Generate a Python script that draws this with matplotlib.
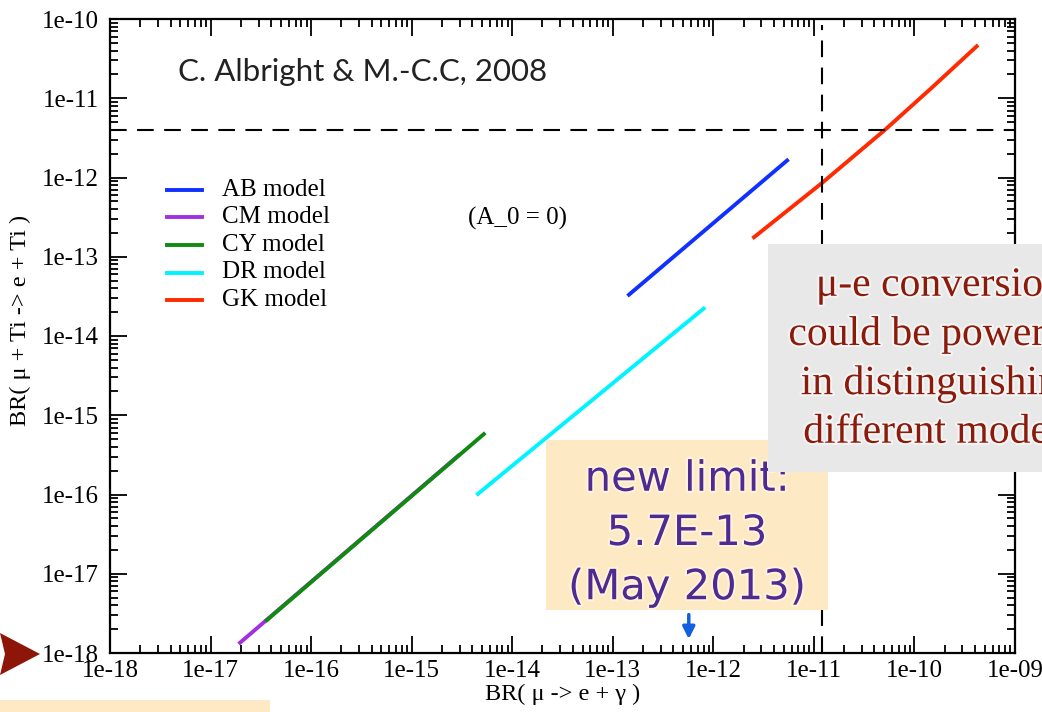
import matplotlib
matplotlib.use("Agg")
import matplotlib.pyplot as plt
import matplotlib.ticker as ticker
import matplotlib.patheffects as pe
from matplotlib.patches import Rectangle, Polygon
import numpy as np

W, H = 1042, 712

# model curves, BR(mu -> e gamma) vs BR(mu Ti -> e Ti)
models = ["AB model", "CM model", "CY model", "DR model", "GK model"]
colors = ["#1030ff", "#a030e0", "#108a10", "#00f4ff", "#ff2a00"]
ab_x = [1.4e-13, 5.6e-12]
ab_y = [3.2e-14, 1.7e-12]
cm_x = [1.9e-17, 3.0e-15]
cm_y = [1.3e-18, 3.2e-16]
cy_x = [3.5e-17, 5.4e-15]
cy_y = [2.5e-18, 6.0e-16]
dr_x = [4.4e-15, 8.3e-13]
dr_y = [9.8e-17, 2.3e-14]
gk_x = [2.45e-12, 1.2e-11, 5.1e-11, 1.48e-10, 4.3e-10]
gk_y = [1.7e-13, 8.5e-13, 4.0e-12, 1.35e-11, 4.7e-11]

meg_limit = 1.2e-11      # vertical dashed
mueti_limit = 4.0e-12    # horizontal dashed
new_limit = 5.7e-13


def px(x, y):
    # pixel position (from top-left) to figure fraction
    return x / W, 1 - y / H


fig = plt.figure(figsize=(W / 100, H / 100), dpi=100)
ax = fig.add_axes([110 / W, 1 - 653 / H, 905 / W, 634 / H])

series = [(ab_x, ab_y), (cm_x, cm_y), (cy_x, cy_y), (dr_x, dr_y), (gk_x, gk_y)]
for (xs, ys), c in zip(series, colors):
    ax.plot(xs, ys, color=c, lw=2.8, solid_capstyle="butt")

ax.axhline(mueti_limit, color="black", lw=1.5, dashes=(8, 5))
ax.axvline(meg_limit, ymax=0.99, color="black", lw=1.5, dashes=(8, 5))

ax.set_xscale("log")
ax.set_yscale("log")
ax.set_xlim(1e-18, 1e-9)
ax.set_ylim(1e-18, 1e-10)

fmt = ticker.FuncFormatter(lambda v, p: "1e-%02d" % round(-np.log10(v)))
for a in (ax.xaxis, ax.yaxis):
    a.set_major_locator(ticker.LogLocator(base=10, numticks=20))
    a.set_minor_locator(ticker.LogLocator(base=10, subs=np.arange(2, 10), numticks=20))
    a.set_minor_formatter(ticker.NullFormatter())
    a.set_major_formatter(fmt)

ax.tick_params(which="both", direction="in", top=True, right=True, width=1.3,
               labelsize=18)
ax.tick_params(axis="x", which="major", pad=5)
ax.tick_params(axis="y", which="major", pad=8)
ax.tick_params(which="major", length=12)
ax.tick_params(which="minor", length=6)
for lab in ax.get_xticklabels() + ax.get_yticklabels():
    lab.set_fontfamily("Liberation Serif")
for s in ax.spines.values():
    s.set_linewidth(1.6)

ax.set_xlabel("BR( μ -> e + γ )", fontsize=17.5, family="Liberation Serif", labelpad=1)
fig.text(*px(20, 320), "BR( μ + Ti -> e + Ti )", fontsize=17.5, family="Liberation Serif",
         rotation=90, ha="center", va="center")

# legend drawn by hand, xmgrace style
for i, (m, c) in enumerate(zip(models, colors)):
    y = 190 + i * 27.5
    fig.add_artist(plt.Line2D([167 / W, 202 / W], [1 - y / H] * 2, color=c, lw=2.8))
    fig.text(*px(222, y), m, fontsize=18, family="Liberation Serif", va="center")

fig.text(*px(468, 218), "(A_0 = 0)", fontsize=18, family="Liberation Serif", va="center")
fig.text(*px(178, 72), "C. Albright & M.-C.C, 2008", fontsize=22.5, family="Lato",
         va="center", color="#222222")

# new experimental limit box
fig.add_artist(Rectangle(px(546, 610), 282 / W, 170 / H, transform=fig.transFigure,
                         facecolor="#fde9c4", edgecolor="none", zorder=5))
halo = [pe.withStroke(linewidth=3, foreground="#fff3dc")]
fig.text(*px(687, 533), "new limit:\n5.7E-13\n(May 2013)", fontsize=30,
         family="DejaVu Sans", color="#4e2a92", ha="center", va="center",
         linespacing=1.37, zorder=6, path_effects=halo)

ax.annotate("", xy=(new_limit, 10 ** -17.86), xytext=(new_limit, 10 ** -17.48),
            arrowprops=dict(arrowstyle="-|>", color="#1060e0", lw=2.5,
                            mutation_scale=18), annotation_clip=False)

# comment box on the right
fig.add_artist(Rectangle(px(768, 472), 300 / W, 228 / H, transform=fig.transFigure,
                         facecolor="#e8e8e8", edgecolor="none", zorder=7))
fig.text(*px(940, 359), "μ-e conversion\ncould be powerful\nin distinguishing\ndifferent models",
         fontsize=30, family="Liberation Serif", color="#8b1a0a", ha="center",
         va="center", linespacing=1.34, zorder=8,
         path_effects=[pe.withStroke(linewidth=3, foreground="#f4f4f4")])

# pointer arrow at the left edge
arrow = [px(0, 633), px(40, 654), px(0, 675), px(5, 654)]
fig.add_artist(Polygon(arrow, closed=True, transform=fig.transFigure,
                       facecolor="#8e1608", edgecolor="none", zorder=9))

fig.add_artist(Rectangle(px(0, 712), 270 / W, 12 / H, transform=fig.transFigure,
                         facecolor="#fde9c4", edgecolor="none", zorder=5))

fig.savefig("out.png", dpi=100)
